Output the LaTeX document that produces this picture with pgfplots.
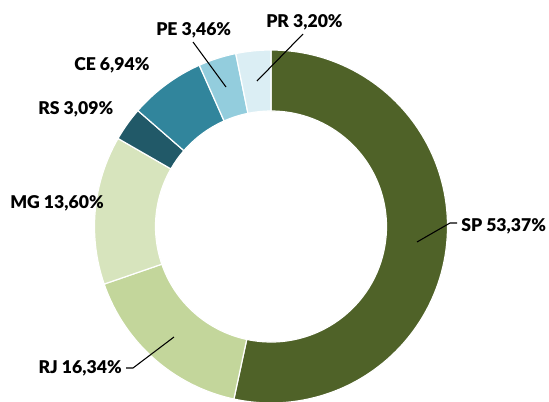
\documentclass[border=0pt]{standalone}
\usepackage{pgfplots}
\usepackage{pgfplotstable}
\pgfplotsset{compat=1.18}
\usepackage{fontspec}
\setmainfont{Lato}[BoldFont={Lato Black}]
\definecolor{cSP}{HTML}{4F6228}
\definecolor{cRJ}{HTML}{C3D69B}
\definecolor{cMG}{HTML}{D7E4BD}
\definecolor{cRS}{HTML}{215968}
\definecolor{cCE}{HTML}{31859C}
\definecolor{cPE}{HTML}{93CDDD}
\definecolor{cPR}{HTML}{DBEEF4}
\pgfplotstableread{
label value color
SP 53.37 cSP
RJ 16.34 cRJ
MG 13.60 cMG
RS 3.09 cRS
CE 6.94 cCE
PE 3.46 cPE
PR 3.20 cPR
}\piedata
\begin{document}%
\begin{tikzpicture}
\xdef\curang{90}
\pgfplotsforeachungrouped \i in {0,...,6}{%
  \pgfplotstablegetelem{\i}{value}\of\piedata
  \pgfmathsetmacro\endang{\curang-3.6*\pgfplotsretval}%
  \expandafter\xdef\csname sa\i\endcsname{\curang}%
  \expandafter\xdef\csname ea\i\endcsname{\endang}%
  \xdef\curang{\endang}%
  \pgfplotstablegetelem{\i}{color}\of\piedata
  \colorlet{seg\i}{\pgfplotsretval}%
}
\begin{axis}[name=ax,
  width=411.75pt, height=300.75pt, scale only axis,
  xmin=0, xmax=549, ymin=0, ymax=401,
  hide axis, clip=true, clip mode=global]
\addplot[draw=none] coordinates {(0,0) (549,401)};
\pgfplotsinvokeforeach{0,...,6}{
  \fill[fill=seg#1, draw=white, line width=0.9pt]
    ([shift={(\csname sa#1\endcsname:132.375pt)}]axis cs:271,174.5)
    arc[start angle=\csname sa#1\endcsname, end angle=\csname ea#1\endcsname, radius=132.375pt]
    -- ([shift={(\csname ea#1\endcsname:86.625pt)}]axis cs:271,174.5)
    arc[start angle=\csname ea#1\endcsname, end angle=\csname sa#1\endcsname, radius=86.625pt]
    -- cycle;
}
\draw[black, line width=0.8pt] (axis cs:417,159) -- (axis cs:450,178) -- (axis cs:457,178);
\draw[black, line width=0.8pt] (axis cs:174,64) -- (axis cs:133,33) -- (axis cs:126,33);
\draw[black, line width=0.8pt] (axis cs:193,359) -- (axis cs:226,314);
\draw[black, line width=0.8pt] (axis cs:303,367) -- (axis cs:257,320);
\tikzset{lbl/.style={inner sep=0pt, font=\fontsize{13.2}{15}\selectfont\bfseries}}
\node[lbl, anchor=west] at (axis cs:461,175) {SP 53,37\%};
\node[lbl, anchor=east] at (axis cs:122,33) {RJ 16,34\%};
\node[lbl, anchor=west] at (axis cs:10,198) {MG 13,60\%};
\node[lbl, anchor=west] at (axis cs:38,292) {RS 3,09\%};
\node[lbl, anchor=west] at (axis cs:74,336) {CE 6,94\%};
\node[lbl, anchor=west] at (axis cs:156,371) {PE 3,46\%};
\node[lbl, anchor=west] at (axis cs:266,379) {PR 3,20\%};
\end{axis}
\pgfresetboundingbox
\useasboundingbox (ax.south west) rectangle (ax.north east);
\end{tikzpicture}%
\end{document}
